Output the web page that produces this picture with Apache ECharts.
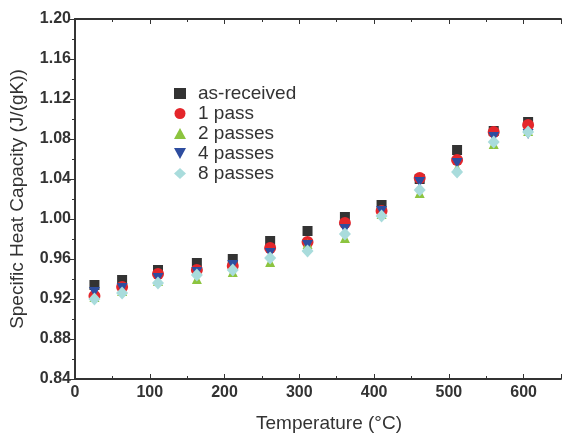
<!DOCTYPE html>
<html><head><meta charset="utf-8">
<script src="https://cdn.jsdelivr.net/npm/echarts@6/dist/echarts.min.js"></script>
<style>html,body{margin:0;padding:0;background:#fff}#c{width:562px;height:434px}</style>
</head><body><div id="c"></div>
<script>
const temps = [26, 63, 111, 163, 211, 261, 311, 361, 410, 461, 511, 560, 606];
const asReceived = [0.934, 0.939, 0.949, 0.956, 0.960, 0.978, 0.988, 1.002, 1.014, 1.040, 1.069, 1.088, 1.097];
const pass1 = [0.923, 0.932, 0.945, 0.949, 0.953, 0.971, 0.977, 0.996, 1.008, 1.041, 1.059, 1.087, 1.094];
const pass2 = [0.922, 0.928, 0.938, 0.940, 0.947, 0.957, 0.975, 0.981, 1.005, 1.026, 1.051, 1.075, 1.088];
const pass4 = [0.927, 0.931, 0.941, 0.947, 0.954, 0.966, 0.974, 0.990, 1.008, 1.037, 1.056, 1.082, 1.085];
const pass8 = [0.920, 0.926, 0.936, 0.944, 0.949, 0.961, 0.968, 0.985, 1.003, 1.029, 1.047, 1.077, 1.087];
const seriesNames = ['as-received', '1 pass', '2 passes', '4 passes', '8 passes'];
const yTicks = [0.84, 0.88, 0.92, 0.96, 1.00, 1.04, 1.08, 1.12, 1.16, 1.20];

const chart = echarts.init(document.getElementById('c'), null, {renderer: 'canvas'});
const zip = arr => temps.map((t, i) => [t, arr[i]]);
const styles = [
  {symbol: 'rect', size: 10, color: '#333333'},
  {symbol: 'circle', size: 12, color: '#e4262b'},
  {symbol: 'triangle', size: 10, color: '#8cc43f'},
  {symbol: 'path://M0,0 L10,0 L5,9 Z', size: [11, 10], color: '#2e4d9f'},
  {symbol: 'diamond', size: [12, 13], color: '#a9dcdc'}
];
const dataArr = [asReceived, pass1, pass2, pass4, pass8];
const axisLineStyle = {color: '#333', width: 1.8};
chart.setOption({
  animation: false,
  backgroundColor: '#fff',
  textStyle: {fontFamily: 'Liberation Sans, Arial, sans-serif'},
  grid: {left: 75, top: 19, right: 1, bottom: 55, containLabel: false, outerBoundsMode: 'none'},
  legend: {
    orient: 'vertical', left: 169, top: 79, itemGap: 1, itemWidth: 12, itemHeight: 11,
    textStyle: {fontSize: 19, color: '#333', padding: [0, 0, 0, 7]},
    data: seriesNames.map((n, i) => ({name: n, icon: styles[i].symbol}))
  },
  xAxis: [{
    type: 'value', min: 0, max: 650, interval: 100,
    name: 'Temperature (°C)', nameLocation: 'middle', nameGap: 35,
    nameTextStyle: {fontSize: 19, color: '#333', padding: [0, 0, 0, 22]},
    axisLine: {onZero: false, lineStyle: axisLineStyle},
    axisTick: {inside: true, length: 5, lineStyle: {color: '#333'}},
    minorTick: {show: true, splitNumber: 2, length: 3, lineStyle: {color: '#333'}},
    axisLabel: {fontSize: 16, fontWeight: 'bold', color: '#333', margin: 6,
      formatter: v => (v % 100 === 0 && v <= 600) ? String(v) : ''},
    splitLine: {show: false}
  }, {
    type: 'value', position: 'top', min: 0, max: 650, interval: 100,
    axisLine: {show: true, lineStyle: axisLineStyle},
    axisTick: {inside: true, length: 5, lineStyle: {color: '#333'}},
    minorTick: {show: true, splitNumber: 2, length: 3, lineStyle: {color: '#333'}},
    axisLabel: {show: false}, splitLine: {show: false}
  }],
  yAxis: [{
    type: 'value', min: 0.84, max: 1.20, interval: 0.04,
    name: 'Specific Heat Capacity (J/(gK))', nameLocation: 'middle', nameGap: 48,
    nameTextStyle: {fontSize: 19, color: '#333'},
    axisLine: {onZero: false, lineStyle: axisLineStyle},
    axisTick: {inside: false, length: 4, lineStyle: {color: '#333'}},
    minorTick: {show: true, splitNumber: 2, length: 3, lineStyle: {color: '#333'}},
    axisLabel: {fontSize: 16, fontWeight: 'bold', color: '#333', margin: 4,
      formatter: v => { const t = yTicks.find(x => Math.abs(x - v) < 1e-6); return t !== undefined ? t.toFixed(2) : ''; }},
    splitLine: {show: false}
  }, {
    type: 'value', position: 'right', min: 0.84, max: 1.20, interval: 0.04,
    axisLine: {show: true, lineStyle: axisLineStyle},
    axisTick: {inside: true, length: 5, lineStyle: {color: '#333'}},
    minorTick: {show: true, splitNumber: 2, length: 3, lineStyle: {color: '#333'}},
    axisLabel: {show: false}, splitLine: {show: false}
  }],
  series: dataArr.map((arr, i) => ({
    name: seriesNames[i], type: 'scatter', data: zip(arr),
    symbol: styles[i].symbol, symbolSize: styles[i].size,
    itemStyle: {color: styles[i].color, opacity: 1}, z: 2 + i
  }))
});
</script></body></html>
